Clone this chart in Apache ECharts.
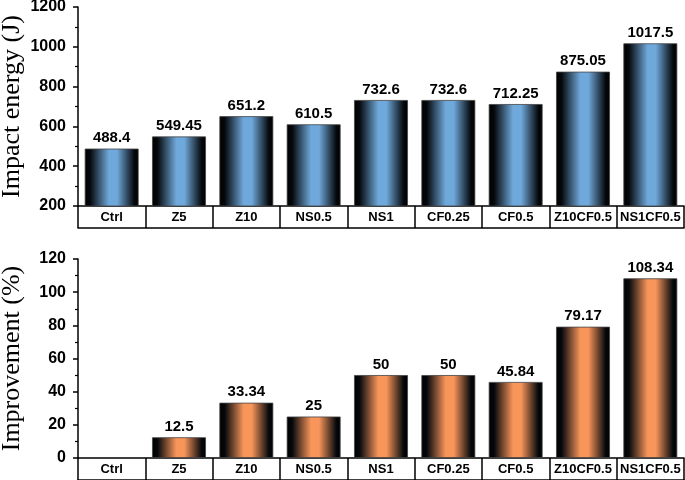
<!DOCTYPE html>
<html>
<head>
<meta charset="utf-8">
<script src="https://cdn.jsdelivr.net/npm/echarts@6/dist/echarts.min.js"></script>
<style>
  html, body { margin: 0; padding: 0; background: #fff; }
  #chart { width: 685px; height: 480px; }
</style>
</head>
<body>
<div id="chart"></div>
<script>
// data
const categories = ['Ctrl', 'Z5', 'Z10', 'NS0.5', 'NS1', 'CF0.25', 'CF0.5', 'Z10CF0.5', 'NS1CF0.5']
const impactEnergy = [488.4, 549.45, 651.2, 610.5, 732.6, 732.6, 712.25, 875.05, 1017.5]
const improvement = [0, 12.5, 33.34, 25, 50, 50, 45.84, 79.17, 108.34]

// black edges, light centre
const grad = mid => new echarts.graphic.LinearGradient(0, 0, 1, 0, [
  { offset: 0, color: '#000' },
  { offset: 0.1, color: '#05080c' },
  { offset: 0.45, color: mid },
  { offset: 0.6, color: mid },
  { offset: 0.92, color: '#05080c' },
  { offset: 1, color: '#000' }
])

const labelFont = { fontFamily: 'Liberation Sans, Arial, sans-serif', fontWeight: 'bold', color: '#000' }

// category axis drawn as a row of boxes
const catAxis = gridIndex => ({
  type: 'category',
  gridIndex,
  data: categories,
  axisLine: { lineStyle: { color: '#000', width: 1.5 } },
  axisTick: { show: true, interval: 0, length: 22, lineStyle: { color: '#000', width: 1.5 } },
  axisLabel: { interval: 0, margin: 5, fontSize: 13, ...labelFont }
})
const bottomLine = gridIndex => ({
  type: 'category',
  gridIndex,
  data: categories,
  position: 'bottom',
  offset: 22,
  axisLine: { lineStyle: { color: '#000', width: 1.5 } },
  axisTick: { show: false },
  axisLabel: { show: false }
})
const valAxis = (gridIndex, min, max, interval, name) => ({
  type: 'value',
  gridIndex,
  min, max, interval,
  name,
  nameLocation: 'middle',
  nameGap: 53,
  nameMoveOverlap: false,
  nameTextStyle: { fontFamily: 'Liberation Serif, Times New Roman, serif', fontSize: 26, color: '#000' },
  axisLine: { show: true, lineStyle: { color: '#000', width: 1.5 } },
  axisTick: { show: true, length: 5, lineStyle: { color: '#000', width: 1.5 } },
  minorTick: { show: true, splitNumber: 2, length: 3, lineStyle: { color: '#000', width: 1.2 } },
  splitLine: { show: false },
  axisLabel: { margin: 12, fontSize: 16, formatter: v => String(v), ...labelFont }
})

const chart = echarts.init(document.getElementById('chart'))
chart.setOption({
  animation: false,
  grid: [
    { left: 78, right: 1, top: 7, height: 199, outerBoundsMode: 'none' },
    { left: 78, right: 1, top: 259, height: 199, outerBoundsMode: 'none' }
  ],
  xAxis: [catAxis(0), catAxis(1), bottomLine(0), bottomLine(1)],
  yAxis: [
    valAxis(0, 200, 1200, 200, 'Impact energy (J)'),
    valAxis(1, 0, 120, 20, 'Improvement (%)')
  ],
  series: [
    {
      type: 'bar',
      xAxisIndex: 0, yAxisIndex: 0,
      data: impactEnergy,
      barCategoryGap: '20%',
      itemStyle: { color: grad('#6fa8da'), borderColor: '#444', borderWidth: 0.8 },
      label: { show: true, position: 'top', distance: 3, fontSize: 15, ...labelFont }
    },
    {
      type: 'bar',
      xAxisIndex: 1, yAxisIndex: 1,
      data: improvement.map((v, i) => i === 0 ? null : v),
      barCategoryGap: '20%',
      itemStyle: { color: grad('#f7955a'), borderColor: '#444', borderWidth: 0.8 },
      label: { show: true, position: 'top', distance: 3, fontSize: 15, ...labelFont }
    }
  ]
})
</script>
</body>
</html>
